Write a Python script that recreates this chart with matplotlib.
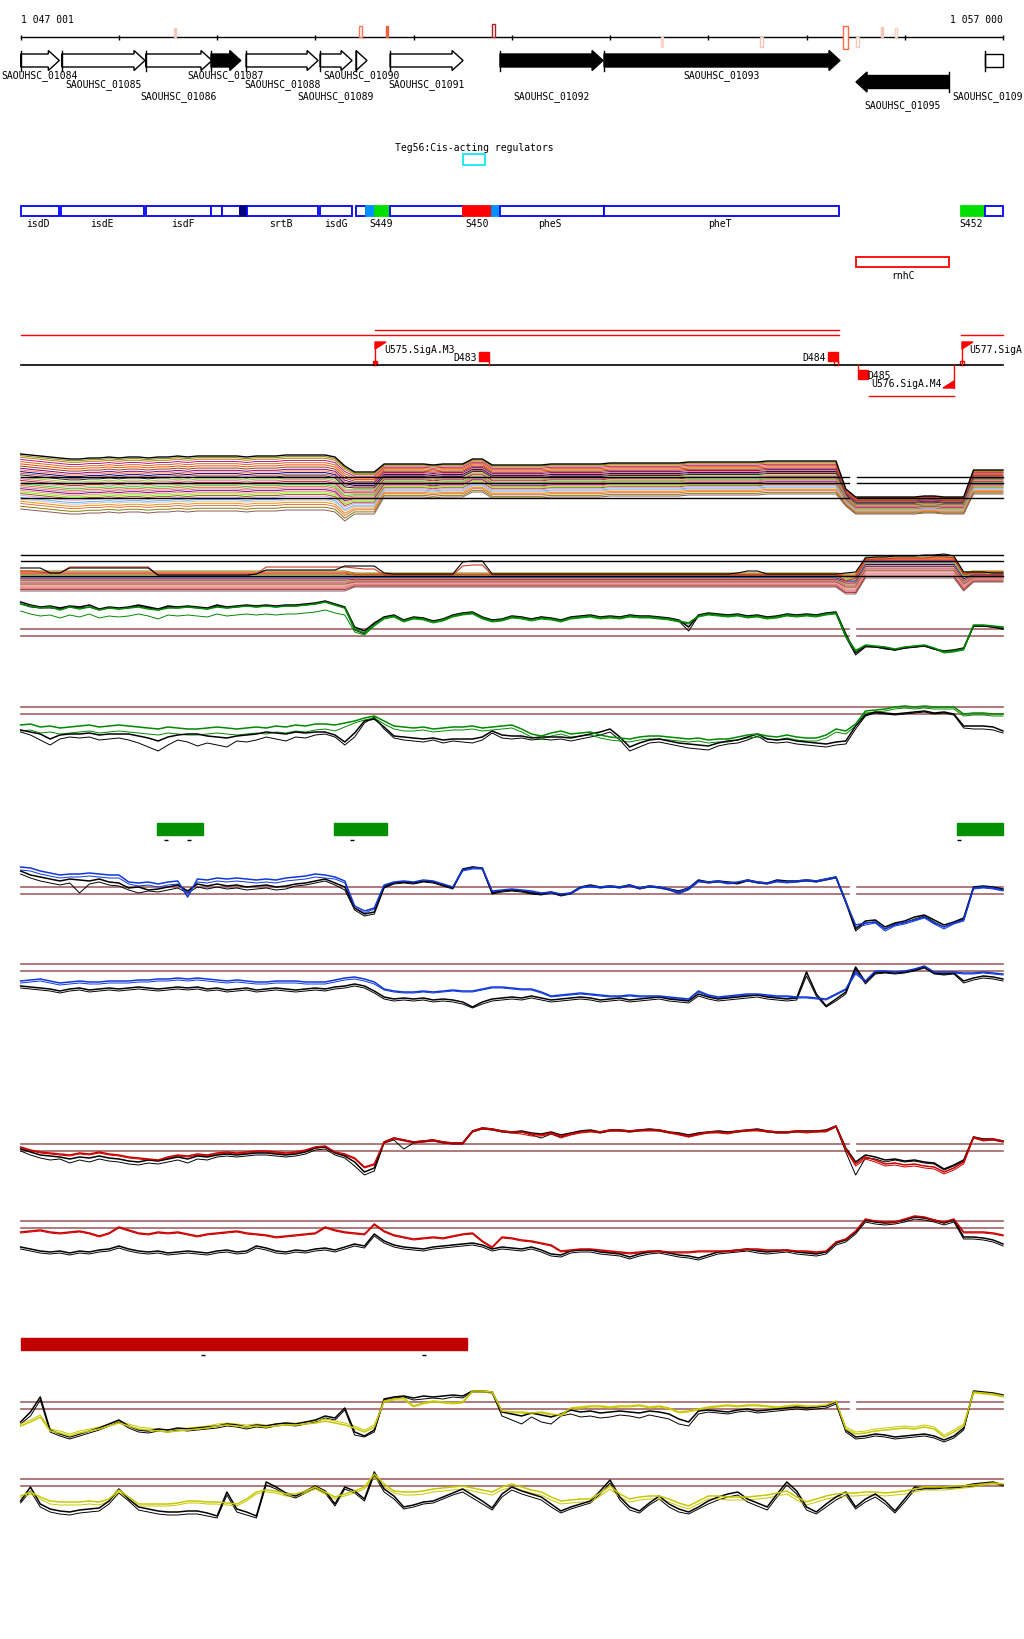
import matplotlib
matplotlib.use("Agg")
import matplotlib.pyplot as plt
import numpy as np
from matplotlib.patches import Rectangle, Polygon

START, END = 1047001, 1057000
bins = np.arange(1047000, 1057001, 100)   # 100 bp bins, 101 values per signal

# ---- annotation data ----
gene_names = ["SAOUHSC_01084", "SAOUHSC_01085", "SAOUHSC_01086", "SAOUHSC_01087",
              "SAOUHSC_01088", "SAOUHSC_01089", "SAOUHSC_01090", "SAOUHSC_01091",
              "SAOUHSC_01092", "SAOUHSC_01093", "SAOUHSC_01095", "SAOUHSC_0109"]
gene_start = [1047001, 1047418, 1048273, 1048938, 1049295, 1050048, 1050414, 1050761,
              1051880, 1052939, 1055504, 1056818]
gene_end = [1047394, 1048266, 1048948, 1049241, 1050028, 1050374, 1050526, 1051504,
            1052929, 1055341, 1056451, 1057600]
gene_strand = [1, 1, 1, 1, 1, 1, 1, 1, 1, 1, -1, 1]
gene_black = [False, False, False, True, False, False, False, False, True, True, True, False]
gene_row = [0, 1, 2, 0, 1, 2, 0, 1, 2, 0, 3, 2]

feat_start = [1047001, 1047411, 1048277, 1048938, 1049050, 1049233, 1049305, 1050048,
              1050414, 1050516, 1050608, 1050761, 1051504, 1051799, 1051880, 1052939,
              1056573, 1056818]
feat_end = [1047388, 1048256, 1048938, 1049050, 1049233, 1049305, 1050028, 1050374,
            1050516, 1050608, 1050761, 1051504, 1051799, 1051880, 1052939, 1055331,
            1056818, 1057000]
feat_fill = ["none", "none", "none", "none", "none", "#000080", "none", "none",
             "none", "#0090ff", "#00e000", "none", "#ff0000", "#0090ff", "none", "none",
             "#00e000", "none"]
feat_labels = ["isdD", "isdE", "isdF", "srtB", "isdG", "S449", "S450", "pheS", "pheT", "S452"]
feat_label_pos = [1047177, 1047829, 1048653, 1049651, 1050211, 1050669, 1051646,
                  1052389, 1054120, 1056675]

axis_ticks = [1047001] + list(range(1048000, 1057001, 1000))

mark_pos = [1048562, 1050446, 1050720, 1051799, 1053518, 1054526, 1055371, 1055504,
            1055759, 1055901]
mark_width = [20, 30, 20, 30, 20, 30, 50, 30, 15, 20]
mark_span = [(29, 38), (27, 38), (27, 38), (25, 38), (38, 48), (38, 48), (27, 50),
             (38, 48), (28, 38), (29, 38)]
mark_filled = [True, False, True, False, True, False, False, False, True, False]
mark_color = ["#f5c8bc", "#ff7a5a", "#f06040", "#b02020", "#f8d4c8", "#f4c4b4",
              "#ff6a4a", "#f8c8b8", "#f6c6b6", "#f8d0c0"]

green_bars = [(1048390, 1048859), (1050192, 1050731), (1056530, 1057000)]
green_dash = [1048480, 1048710, 1050370, 1056550]
red_bars = [(1047004, 1051547)]
red_dash = [1048858, 1051108]
gap = (1055430, 1055510)

# ---- bundle tracks (many conditions) ----
A_top = [23, 22, 21, 20, 19, 18, 18, 19, 19, 20,
         19, 20, 20, 19, 20, 20, 21, 20, 21, 21,
         21, 21, 21, 20, 21, 21, 21, 22, 22, 22,
         22, 22, 20, 11, 5, 5, 5, 13, 13, 13,
         13, 13, 12, 13, 13, 13, 18, 18, 12, 12,
         12, 12, 12, 12, 13, 13, 13, 13, 13, 13,
         14, 14, 14, 14, 14, 14, 14, 14, 15, 15,
         15, 15, 15, 15, 15, 15, 16, 16, 16, 16,
         16, 16, 16, 16, -12, -20, -20, -20, -20, -20,
         -20, -20, -19, -19, -20, -20, -20, 7, 7, 7, 7]
A_spread = np.repeat([55, 42, 33, 17, 24], [34, 3, 47, 13, 4])
A_fracs = [0.03, 0.06, 0.1, 0.14, 0.18, 0.22, 0.26, 0.29, 0.32, 0.35, 0.38, 0.42, 0.45,
           0.48, 0.51, 0.54, 0.57, 0.6, 0.63, 0.66, 0.69, 0.72, 0.75, 0.79, 0.82, 0.86,
           0.9, 0.95, 1.0]
A_colors = ["#808000", "#b8860b", "#c71585", "#d2691e", "#ff4500", "#8b4513", "#800080",
            "#ff7f50", "#000080", "#cd5c5c", "#222222", "#9acd32", "#db7093", "#b22222",
            "#d2b48c", "#32cd32", "#ff6347", "#bc8f8f", "#8b008b", "#e9967a", "#7cfc00",
            "#a0522d", "#dda0dd", "#66b3ff", "#c0c0c0", "#ff8c00", "#e07050", "#808000",
            "#8b5a5a"]

B_top = np.repeat([5, 3, 2, 19, 4, 5], [34, 50, 2, 10, 1, 4])
B_spread = np.repeat([20, 14, 20, 21, 19, 11], [34, 50, 2, 10, 1, 4])
B_fracs = [0.0, 0.06, 0.11, 0.16, 0.21, 0.26, 0.31, 0.36, 0.41, 0.46, 0.51, 0.56, 0.61,
           0.66, 0.71, 0.76, 0.81, 0.87, 0.93, 1.0]
B_colors = ["#808000", "#d2691e", "#ff4500", "#c71585", "#7cfc00", "#b8860b", "#66b3ff",
            "#000080", "#ff7f50", "#800080", "#9acd32", "#cd5c5c", "#db7093", "#8b4513",
            "#e9967a", "#dda0dd", "#ff6347", "#bc8f8f", "#b22222", "#8b5a5a"]
B_black = [8, 8, 8, 3, 3, 8, 8, 8, 8, 8,
           8, 8, 8, 8, 1, 1, 1, 1, 1, 1,
           1, 1, 1, 1, 2, 6, 6, 6, 6, 6,
           6, 6, 6, 10, 10, 10, 10, 3, 2, 2,
           2, 2, 2, 2, 2, 14, 15, 15, 2, 2,
           2, 2, 2, 2, 2, 2, 2, 2, 2, 2,
           2, 2, 2, 2, 2, 2, 2, 2, 2, 2,
           2, 2, 2, 3, 5, 5, 2, 2, 2, 2,
           2, 2, 2, 2, 3, 4, 18, 19, 19, 20,
           20, 20, 21, 21, 22, 20, 4, 4, 4, 3, 3]
B_red = [5, 5, 4, 3, 3, 9, 9, 9, 9, 9,
         9, 9, 9, 9, 0, 0, 0, 0, 0, 0,
         0, 0, 0, 0, 2, 9, 9, 9, 9, 9,
         9, 9, 9, 9, 8, 7, 7, 1, 1, 1,
         1, 1, 1, 1, 1, 10, 11, 11, 1, 1,
         1, 1, 1, 1, 1, 1, 1, 1, 1, 1,
         1, 1, 1, 1, 1, 1, 1, 1, 1, 1,
         1, 1, 1, 1, 1, 1, 1, 1, 1, 1,
         1, 1, 1, 1, -5, -2, 16, 17, 17, 18,
         18, 18, 18, 19, 19, 18, 2, 2, 2, 1, 1]

# ---- paired signal tracks: values relative to upper threshold ----
C_black1 = [27, 24, 22, 23, 21, 23, 22, 24, 20, 22, 21, 22, 24, 22, 20, 23, 22, 23, 22, 21,
            24, 22, 23, 24, 23, 24, 23, 24, 24, 25, 26, 28, 25, 22, 2, -2, 6, 12, 14, 9,
            12, 11, 8, 10, 14, 16, 17, 12, 9, 10, 13, 12, 10, 12, 11, 9, 12, 13, 14, 12,
            13, 12, 14, 13, 13, 12, 11, 9, 2, 14, 16, 15, 14, 15, 13, 14, 12, 13, 15, 14,
            15, 14, 16, 17, -5, -24, -17, -18, -19, -21, -19, -18, -17, -20, -22, -21, -19, 3, 3, 2, 0]
C_black2 = [25, 22, 21, 21, 20, 22, 21, 22, 19, 21, 20, 21, 23, 21, 19, 22, 21, 22, 21, 20,
            23, 21, 22, 23, 22, 23, 22, 23, 23, 24, 25, 27, 24, 21, -1, -5, 5, 12, 13, 8,
            11, 10, 8, 9, 13, 15, 16, 11, 8, 9, 12, 11, 10, 12, 10, 8, 11, 12, 13, 11,
            12, 11, 13, 12, 12, 11, 10, 8, -2, 13, 15, 14, 13, 14, 12, 13, 11, 12, 14, 13,
            14, 13, 15, 16, -8, -26, -18, -18, -20, -21, -19, -18, -17, -20, -23, -22, -20, 3, 3, 2, 1]
C_green1 = [25, 23, 21, 22, 19, 22, 20, 22, 19, 21, 20, 21, 22, 20, 19, 21, 21, 22, 21, 20,
            22, 21, 22, 23, 22, 23, 22, 23, 23, 24, 25, 27, 24, 21, 0, -4, 4, 11, 13, 8,
            11, 10, 7, 9, 13, 15, 16, 11, 8, 9, 12, 11, 9, 11, 10, 8, 11, 12, 13, 11,
            12, 11, 13, 12, 12, 11, 10, 8, 6, 13, 15, 14, 13, 14, 12, 13, 11, 12, 14, 13,
            14, 13, 15, 16, -7, -22, -16, -17, -18, -20, -18, -17, -16, -19, -23, -22, -20, 4, 4, 3, 2]
C_green2 = [18, 15, 13, 14, 11, 14, 12, 15, 11, 13, 12, 13, 15, 13, 10, 14, 13, 14, 13, 12,
            15, 13, 14, 15, 14, 15, 14, 15, 15, 16, 17, 19, 16, 14, -3, -6, 3, 10, 12, 7,
            10, 9, 6, 8, 12, 14, 15, 10, 7, 8, 11, 10, 8, 10, 9, 7, 10, 11, 12, 10,
            11, 10, 12, 11, 11, 10, 9, 7, 5, 12, 14, 13, 12, 13, 11, 12, 10, 11, 13, 12,
            13, 12, 14, 15, -8, -21, -17, -18, -19, -21, -19, -18, -17, -20, -24, -23, -21, 3, 3, 2, 1]

D_black1 = [-23, -25, -27, -32, -28, -27, -27, -26, -28, -27, -27, -27, -29, -31, -34, -30, -28, -27, -27, -29,
            -30, -31, -29, -28, -27, -25, -26, -27, -25, -26, -25, -25, -28, -35, -26, -14, -12, -20, -29, -30,
            -31, -32, -31, -33, -32, -32, -32, -30, -24, -28, -29, -29, -31, -30, -30, -30, -31, -29, -27, -25,
            -22, -30, -40, -36, -33, -32, -34, -36, -37, -38, -39, -36, -34, -33, -30, -27, -32, -33, -32, -34,
            -35, -36, -37, -35, -34, -19, -8, -5, -6, -7, -6, -5, -4, -6, -5, -7, -19, -19, -19, -20, -24]
D_black2 = [-25, -28, -33, -38, -32, -30, -31, -30, -33, -32, -31, -33, -36, -40, -44, -38, -33, -35, -39, -36,
            -38, -40, -34, -35, -33, -30, -32, -34, -30, -31, -28, -27, -30, -38, -30, -16, -10, -22, -31, -33,
            -34, -35, -33, -36, -34, -35, -36, -33, -26, -31, -32, -31, -33, -32, -33, -32, -34, -32, -30, -28,
            -25, -33, -44, -40, -36, -35, -37, -39, -41, -42, -43, -39, -37, -36, -33, -29, -35, -36, -35, -37,
            -38, -39, -40, -38, -37, -22, -9, -6, -7, -8, -7, -6, -5, -7, -6, -8, -21, -22, -22, -23, -26]
D_green1 = [-18, -17, -20, -19, -21, -20, -19, -18, -20, -19, -18, -19, -20, -21, -22, -20, -21, -22, -22, -21,
            -20, -21, -22, -21, -20, -21, -19, -20, -18, -19, -17, -17, -18, -16, -14, -11, -9, -14, -19, -20,
            -21, -20, -22, -21, -20, -20, -19, -21, -20, -19, -18, -22, -27, -29, -26, -24, -27, -26, -25, -28,
            -30, -31, -32, -30, -29, -29, -30, -31, -32, -31, -33, -32, -32, -30, -28, -27, -29, -30, -28, -30,
            -31, -31, -28, -22, -24, -17, -4, -3, -2, 0, 1, 0, 1, 0, 0, 0, -7, -6, -6, -7, -7]
D_green2 = [-24, -23, -26, -25, -27, -26, -25, -24, -26, -25, -24, -25, -26, -27, -28, -26, -27, -28, -28, -27,
            -26, -27, -28, -27, -26, -27, -25, -26, -24, -25, -23, -22, -24, -20, -16, -13, -11, -17, -22, -24,
            -24, -23, -25, -24, -23, -23, -22, -24, -23, -22, -21, -25, -30, -32, -29, -27, -30, -29, -28, -31,
            -33, -34, -35, -33, -32, -32, -33, -34, -35, -34, -36, -35, -35, -33, -31, -30, -32, -33, -31, -33,
            -34, -34, -31, -25, -27, -19, -6, -5, -4, -2, -1, -2, -1, -2, -2, -2, -9, -8, -8, -9, -9]

E_black1 = [16, 12, 10, 8, 6, 8, 7, 6, 8, 5, 4, -1, 0, -3, -2, 0, 2, -4, 3, 1,
            3, 1, 2, 0, 1, 2, 0, 1, 3, 4, 6, 8, 4, 0, -21, -27, -25, 0, 4, 5,
            4, 6, 5, 2, -1, 18, 20, 19, -6, -4, -3, -4, -6, -7, -5, -8, -6, 0, 2, 0,
            1, 0, 2, -1, 1, 0, -2, -4, -1, 7, 5, 6, 5, 4, 7, 5, 4, 7, 6, 6,
            7, 6, 8, 10, -14, -42, -34, -33, -40, -36, -34, -30, -28, -33, -38, -35, -31, 0, 1, 0, -2]
E_black2 = [13, 9, 6, 4, 2, 4, -6, 3, 5, 2, 1, -3, -6, -4, -5, -3, -1, -6, 0, -2,
            0, -2, -1, -3, -2, -1, -3, -2, 1, 2, 4, 6, 2, -3, -23, -29, -27, -1, 3, 4,
            3, 5, 4, 1, -2, 17, 20, 18, -7, -5, -4, -5, -7, -8, -6, -9, -7, -1, 1, -1,
            0, -1, 1, -2, 0, -1, -3, -6, -2, 6, 4, 5, 4, 3, 6, 4, 3, 6, 5, 5,
            6, 5, 7, 9, -16, -44, -36, -35, -42, -37, -36, -32, -29, -35, -40, -36, -32, -1, 0, -1, -3]
E_blue1 = [20, 19, 16, 14, 12, 13, 13, 14, 13, 12, 12, 5, 4, 5, 3, 5, 6, -10, 8, 7,
           9, 8, 9, 8, 7, 8, 7, 9, 10, 11, 13, 12, 10, 6, -19, -24, -21, 2, 5, 6,
           5, 7, 6, 3, 0, 17, 19, 19, -4, -3, -2, -3, -4, -6, -5, -7, -6, 0, 1, 0,
           1, 0, 2, -1, 1, 0, -2, -5, -1, 6, 5, 6, 4, 5, 7, 5, 4, 6, 5, 6,
           7, 6, 8, 10, -15, -38, -36, -35, -42, -38, -35, -33, -30, -36, -40, -36, -33, -1, 0, -1, -3]
E_blue2 = [17, 16, 13, 11, 9, 10, 10, 11, 10, 9, 9, 3, 1, 2, 0, 2, 3, -6, 5, 4,
           6, 5, 6, 5, 4, 5, 4, 6, 7, 8, 10, 9, 8, 4, -21, -26, -22, 1, 4, 5,
           4, 6, 5, 2, -1, 16, 18, 18, -5, -4, -3, -4, -5, -7, -6, -8, -7, -1, 0, -1,
           0, -1, 1, -2, 0, -1, -3, -7, -3, 5, 4, 5, 3, 4, 6, 4, 3, 5, 4, 5,
           6, 5, 7, 9, -16, -40, -38, -36, -44, -39, -37, -34, -31, -37, -42, -37, -34, -2, -1, -2, -4]

F_black1 = [-22, -23, -24, -25, -27, -25, -24, -26, -25, -24, -25, -24, -23, -24, -25, -24, -23, -24, -23, -25,
            -24, -26, -25, -24, -26, -25, -24, -25, -26, -25, -24, -25, -23, -22, -20, -22, -27, -33, -35, -34,
            -35, -34, -36, -35, -36, -38, -43, -38, -35, -34, -33, -34, -32, -34, -36, -35, -34, -33, -34, -36,
            -35, -34, -36, -35, -34, -33, -35, -36, -37, -30, -33, -35, -34, -33, -32, -31, -33, -34, -35, -34,
            -8, -30, -42, -35, -28, -3, -18, -9, -8, -9, -8, -6, -3, -9, -10, -9, -17, -14, -12, -13, -15]
F_black2 = [-24, -25, -26, -27, -29, -27, -26, -28, -27, -26, -27, -26, -25, -26, -27, -26, -25, -26, -25, -27,
            -26, -28, -27, -26, -28, -27, -26, -27, -28, -27, -26, -27, -25, -24, -22, -24, -29, -35, -37, -36,
            -37, -36, -38, -37, -38, -40, -44, -40, -37, -36, -35, -36, -34, -36, -38, -37, -36, -35, -36, -38,
            -37, -36, -38, -37, -36, -35, -37, -38, -39, -32, -35, -37, -36, -35, -34, -33, -35, -36, -37, -36,
            -12, -32, -43, -37, -30, -5, -20, -10, -9, -10, -9, -7, -4, -10, -11, -10, -19, -16, -14, -15, -17]
F_blue1 = [-17, -16, -15, -17, -19, -18, -17, -18, -18, -17, -17, -17, -16, -16, -15, -15, -14, -15, -14, -15,
           -16, -17, -16, -17, -18, -18, -17, -17, -17, -18, -18, -18, -16, -14, -13, -15, -18, -25, -27, -28,
           -28, -27, -28, -27, -26, -27, -27, -25, -23, -23, -24, -25, -25, -28, -32, -31, -30, -29, -30, -31,
           -32, -32, -31, -32, -32, -32, -33, -34, -35, -27, -31, -33, -32, -31, -30, -30, -31, -32, -32, -33,
           -33, -34, -35, -30, -25, -8, -17, -7, -7, -8, -7, -5, -2, -8, -8, -8, -9, -9, -8, -9, -10]
F_blue2 = [-19, -18, -17, -19, -21, -20, -19, -20, -20, -19, -19, -19, -18, -18, -17, -17, -16, -17, -16, -17,
           -18, -19, -18, -19, -20, -20, -19, -19, -19, -20, -20, -20, -18, -16, -15, -17, -20, -26, -28, -29,
           -29, -28, -29, -28, -27, -28, -28, -26, -24, -24, -25, -26, -26, -29, -33, -32, -31, -30, -31, -32,
           -33, -33, -32, -33, -33, -33, -34, -35, -36, -28, -32, -34, -33, -32, -31, -31, -32, -33, -33, -34,
           -34, -35, -36, -31, -26, -10, -18, -8, -8, -9, -8, -6, -3, -9, -9, -9, -10, -10, -9, -10, -11]

G_black1 = [-5, -8, -11, -12, -13, -15, -13, -14, -12, -14, -15, -17, -18, -16, -17, -15, -13, -15, -12, -13,
            -11, -10, -11, -10, -9, -9, -10, -11, -10, -8, -4, -3, -9, -12, -18, -28, -24, 2, 6, 4,
            2, 3, 4, 2, 1, 1, 13, 16, 15, 13, 12, 13, 11, 10, 12, 9, 11, 13, 14, 12,
            14, 14, 13, 14, 15, 14, 12, 11, 9, 11, 12, 13, 12, 13, 14, 15, 13, 12, 12, 13,
            13, 13, 14, 18, -4, -18, -11, -13, -16, -15, -17, -16, -18, -19, -25, -21, -16, 7, 5, 5, 3]
G_black2 = [-7, -11, -14, -16, -15, -19, -16, -18, -15, -17, -18, -20, -21, -19, -20, -18, -16, -19, -15, -16,
            -13, -12, -13, -12, -11, -11, -12, -13, -12, -10, -6, -5, -11, -14, -22, -31, -27, 1, 4, -5,
            1, 2, 3, 1, 0, 0, 12, 15, 14, 12, 11, 12, 9, 6, 10, 7, 10, 12, 13, 11,
            13, 13, 12, 13, 14, 13, 11, 10, 7, 10, 11, 12, 11, 12, 13, 14, 12, 11, 11, 12,
            12, 12, 13, 17, -8, -31, -14, -15, -18, -16, -18, -17, -19, -20, -26, -22, -17, 6, 4, 4, 2]
G_red1 = [-3, -6, -8, -9, -10, -11, -9, -10, -8, -10, -11, -13, -14, -15, -16, -13, -11, -12, -10, -11,
          -9, -8, -9, -8, -7, -7, -8, -9, -8, -6, -3, -2, -8, -10, -14, -23, -20, 2, 6, 4,
          2, 3, 4, 2, 1, 1, 13, 16, 15, 13, 12, 12, 10, 9, 11, 8, 10, 12, 13, 12,
          14, 14, 13, 14, 14, 14, 12, 10, 8, 10, 12, 12, 11, 13, 14, 14, 13, 12, 12, 13,
          12, 13, 13, 18, -5, -20, -13, -16, -20, -19, -21, -20, -22, -23, -28, -24, -18, 7, 4, 5, 3]
G_red2 = [-4, -7, -9, -10, -11, -12, -10, -11, -9, -11, -12, -14, -15, -16, -17, -14, -12, -13, -11, -12,
          -10, -9, -10, -9, -8, -8, -9, -10, -9, -7, -4, -3, -9, -11, -15, -24, -21, 1, 5, 3,
          1, 2, 3, 1, 0, 0, 12, 15, 14, 12, 11, 10, 8, 8, 10, 6, 9, 11, 12, 11,
          13, 13, 12, 13, 13, 13, 11, 9, 7, 9, 11, 11, 10, 12, 13, 13, 12, 11, 11, 12,
          11, 12, 12, 17, -6, -22, -15, -18, -22, -21, -23, -22, -24, -25, -30, -26, -20, 6, 3, 4, 2]

H_black1 = [-26, -28, -30, -31, -30, -32, -30, -31, -29, -28, -25, -28, -30, -31, -30, -32, -31, -30, -31, -32,
            -30, -29, -31, -30, -25, -27, -30, -31, -29, -30, -28, -27, -29, -26, -23, -25, -13, -20, -24, -26,
            -27, -28, -26, -25, -24, -23, -22, -24, -28, -26, -27, -28, -26, -29, -33, -34, -30, -29, -29, -31,
            -32, -33, -36, -33, -31, -30, -32, -34, -35, -37, -34, -31, -30, -29, -28, -30, -31, -30, -29, -31,
            -32, -33, -31, -22, -19, -11, 1, -1, -2, -1, 1, 4, 3, 1, -2, 1, -16, -16, -17, -19, -23]
H_black2 = [-28, -30, -32, -33, -32, -34, -32, -33, -31, -30, -27, -30, -32, -33, -32, -34, -33, -32, -33, -34,
            -32, -31, -33, -32, -27, -29, -32, -33, -31, -32, -30, -29, -31, -28, -25, -27, -15, -22, -26, -28,
            -29, -30, -28, -27, -26, -25, -24, -26, -30, -28, -29, -30, -28, -31, -35, -36, -32, -31, -31, -33,
            -34, -35, -38, -35, -33, -32, -34, -36, -37, -39, -36, -33, -32, -31, -30, -32, -33, -32, -31, -33,
            -34, -35, -33, -24, -21, -13, -1, -3, -4, -3, -1, 2, 1, -1, -4, -1, -18, -18, -19, -21, -25]
H_red1 = [-11, -10, -9, -11, -12, -11, -10, -12, -15, -12, -6, -9, -12, -13, -11, -12, -11, -13, -15, -13,
          -12, -11, -10, -12, -13, -14, -16, -15, -14, -13, -12, -6, -9, -11, -12, -13, -3, -10, -14, -16,
          -18, -17, -16, -17, -15, -13, -12, -20, -26, -16, -17, -19, -20, -22, -24, -30, -29, -28, -28, -29,
          -30, -31, -32, -31, -30, -30, -31, -31, -31, -30, -30, -30, -30, -29, -28, -28, -29, -29, -29, -30,
          -30, -31, -30, -21, -18, -10, 2, 0, -1, -1, 2, 5, 4, 1, -1, 2, -11, -11, -11, -12, -14]
H_red2 = [-12, -11, -10, -12, -13, -12, -11, -13, -16, -13, -7, -10, -13, -14, -12, -13, -12, -14, -16, -14,
          -13, -12, -11, -13, -14, -15, -17, -16, -15, -14, -13, -7, -10, -12, -13, -14, -4, -11, -15, -17,
          -19, -18, -17, -18, -16, -14, -13, -21, -27, -17, -18, -20, -21, -23, -25, -31, -30, -29, -29, -30,
          -31, -32, -33, -32, -31, -31, -32, -32, -32, -31, -31, -31, -31, -30, -29, -29, -30, -30, -30, -31,
          -31, -32, -31, -22, -19, -11, 1, -1, -2, -2, 1, 4, 3, 0, -2, 1, -12, -12, -12, -13, -15]

I_black1 = [-20, -10, 5, -28, -32, -35, -32, -29, -26, -22, -18, -24, -28, -29, -27, -28, -26, -27, -26, -25,
            -24, -22, -23, -25, -23, -24, -22, -21, -22, -20, -18, -14, -16, -6, -30, -34, -28, 3, 5, 6,
            4, 6, 5, 6, 7, 6, 11, 11, 10, -10, -12, -14, -11, -13, -15, -12, -8, -10, -9, -11,
            -10, -9, -10, -11, -9, -10, -12, -17, -20, -9, -8, -9, -10, -8, -7, -9, -8, -7, -6, -5,
            -6, -5, -4, 0, -28, -35, -34, -32, -33, -35, -34, -33, -32, -34, -38, -34, -26, 11, 10, 9, 7]
I_black2 = [-22, -14, 2, -30, -34, -37, -34, -31, -28, -24, -20, -26, -30, -31, -29, -30, -28, -29, -28, -27,
            -26, -24, -25, -27, -25, -26, -24, -23, -24, -22, -20, -16, -18, -8, -33, -35, -30, 2, 4, 5,
            2, 3, 4, 3, 5, 4, 10, 10, 9, -14, -18, -22, -15, -20, -22, -14, -12, -15, -14, -16,
            -15, -13, -14, -16, -13, -15, -17, -22, -24, -12, -10, -11, -12, -10, -9, -11, -10, -9, -8, -7,
            -8, -7, -6, -2, -30, -37, -36, -34, -35, -37, -36, -35, -34, -36, -40, -36, -28, 10, 9, 8, 6]
I_yel1 = [-24, -20, -15, -29, -31, -34, -31, -29, -27, -24, -21, -24, -27, -28, -29, -30, -29, -28, -27, -26,
          -24, -23, -24, -25, -24, -25, -24, -23, -23, -22, -21, -19, -21, -23, -26, -30, -25, 1, 3, 4,
          -4, -1, 1, 0, -1, 0, 11, 11, 10, -9, -10, -10, -11, -10, -12, -13, -6, -5, -4, -4,
          -5, -4, -4, -3, -5, -4, -6, -10, -9, -7, -5, -4, -3, -4, -3, -3, -4, -5, -4, -3,
          -4, -4, -3, 1, -27, -32, -31, -29, -28, -27, -26, -27, -25, -27, -35, -30, -24, 10, 9, 8, 6]
I_yel2 = [-22, -18, -13, -27, -29, -32, -29, -27, -25, -22, -19, -22, -25, -26, -27, -28, -27, -26, -25, -24,
          -22, -21, -22, -23, -22, -23, -22, -21, -21, -20, -19, -17, -19, -21, -24, -28, -23, 0, 2, 2,
          -5, -2, 0, -1, -2, -1, 10, 10, 9, -10, -11, -11, -12, -11, -13, -14, -8, -6, -5, -5,
          -6, -5, -5, -4, -6, -5, -7, -11, -10, -8, -6, -5, -4, -5, -4, -4, -5, -6, -5, -4,
          -5, -5, -4, 0, -25, -30, -29, -27, -26, -25, -24, -25, -23, -25, -33, -28, -22, 9, 8, 7, 5]

J_black1 = [-22, -8, -25, -30, -32, -33, -31, -30, -29, -22, -10, -20, -28, -30, -32, -33, -33, -32, -32, -34,
            -37, -13, -30, -33, -37, -3, -8, -14, -17, -12, -7, -12, -25, -8, -12, -20, 7, -10, -17, -28,
            -26, -23, -22, -18, -14, -10, -16, -22, -29, -15, -8, -12, -15, -18, -25, -32, -28, -25, -22, -12,
            -1, -18, -28, -32, -24, -17, -25, -30, -33, -28, -22, -18, -15, -13, -20, -24, -28, -15, -3, -12,
            -28, -33, -25, -18, -13, -28, -20, -15, -22, -32, -20, -8, -9, -9, -8, -8, -7, -5, -4, -3, -6]
J_black2 = [-24, -12, -28, -33, -35, -36, -34, -33, -32, -25, -14, -22, -31, -33, -35, -36, -36, -35, -35, -37,
            -39, -16, -33, -36, -39, -6, -10, -16, -19, -14, -9, -14, -27, -10, -14, -22, 4, -13, -20, -30,
            -28, -25, -24, -20, -16, -13, -19, -25, -31, -18, -11, -15, -18, -21, -28, -34, -30, -27, -24, -15,
            -4, -21, -31, -34, -26, -20, -28, -33, -35, -30, -25, -21, -18, -16, -23, -27, -31, -18, -6, -15,
            -31, -35, -28, -21, -16, -30, -23, -18, -25, -34, -23, -11, -10, -10, -9, -9, -8, -7, -5, -4, -7]
J_yel1 = [-17, -13, -18, -22, -23, -23, -23, -22, -23, -20, -11, -18, -25, -25, -25, -25, -24, -22, -22, -23,
          -23, -24, -25, -20, -13, -11, -12, -15, -15, -12, -8, -13, -18, -15, -12, -8, 5, -5, -12, -13,
          -13, -12, -10, -9, -8, -7, -9, -11, -13, -8, -5, -8, -11, -13, -18, -22, -21, -20, -20, -14,
          -7, -15, -20, -18, -17, -17, -20, -24, -27, -22, -17, -17, -18, -18, -18, -17, -16, -14, -12, -18,
          -23, -20, -17, -15, -14, -14, -13, -13, -14, -13, -12, -10, -8, -8, -8, -7, -7, -6, -5, -4, -5]
J_yel2 = [-19, -15, -20, -25, -26, -26, -26, -25, -26, -22, -13, -20, -27, -27, -27, -27, -26, -24, -24, -25,
          -25, -26, -27, -22, -15, -13, -14, -17, -17, -14, -10, -15, -20, -17, -14, -10, 2, -8, -14, -16,
          -16, -15, -13, -12, -11, -10, -12, -14, -16, -11, -8, -11, -14, -16, -21, -25, -24, -23, -23, -17,
          -10, -18, -23, -21, -20, -20, -23, -27, -30, -25, -20, -20, -21, -21, -21, -20, -19, -17, -15, -21,
          -26, -23, -20, -18, -17, -17, -16, -16, -17, -16, -15, -13, -11, -11, -11, -10, -9, -8, -6, -5, -6]

# ---- figure ----
fig = plt.figure(figsize=(10.24, 16.4), dpi=100)
ax = fig.add_axes([0, 0, 1, 1])
ax.set_xlim(1046790, 1057214)
ax.set_ylim(1640, 0)
ax.axis("off")
MONO = "DejaVu Sans Mono"
FS = 7

# coordinate axis
ax.plot([START, END], [38, 38], color="black", lw=1)
ax.vlines(axis_ticks, 36, 41, color="black", lw=1)
ax.text(START, 20, "1 047 001", fontsize=FS, family=MONO, ha="left", va="center")
ax.text(END, 20, "1 057 000", fontsize=FS, family=MONO, ha="right", va="center")
for x, w, (y0, y1), f, c in zip(mark_pos, mark_width, mark_span, mark_filled, mark_color):
    ax.add_patch(Rectangle((x, y0), w, y1 - y0, facecolor=c if f else "white",
                           edgecolor=c, lw=1, zorder=3))

# genes
row_y = [76, 85, 97, 106]
HL = 112
for name, s, e, st, blk, r in zip(gene_names, gene_start, gene_end, gene_strand, gene_black, gene_row):
    yc = 61.5 if st > 0 else 83
    bh, hh = 6.5, 10
    fc = "black" if blk else "white"
    if e > END:
        ax.add_patch(Rectangle((s, yc - bh), END - s, 2 * bh, facecolor=fc, edgecolor="black", lw=1))
        ax.plot([s, s], [yc - hh, yc + hh], color="black", lw=1)
        ax.text(1056480, row_y[r], name, fontsize=FS, family=MONO, ha="left", va="center")
        continue
    hl = min(HL, e - s)
    if st > 0:
        pts = [(s, yc - bh), (e - hl, yc - bh), (e - hl, yc - hh), (e, yc),
               (e - hl, yc + hh), (e - hl, yc + bh), (s, yc + bh)]
        bar = s
    else:
        pts = [(e, yc - bh), (s + hl, yc - bh), (s + hl, yc - hh), (s, yc),
               (s + hl, yc + hh), (s + hl, yc + bh), (e, yc + bh)]
        bar = e
    ax.add_patch(Polygon(pts, closed=True, facecolor=fc, edgecolor="black", lw=1, zorder=2))
    ax.plot([bar, bar], [yc - hh, yc + hh], color="black", lw=1, zorder=2)
    ax.text((s + e) / 2, row_y[r], name, fontsize=FS, family=MONO, ha="center", va="center")

# cis-acting regulator
ax.add_patch(Rectangle((1051508, 155), 224, 11, facecolor="none", edgecolor="#00e8f0", lw=1.2))
ax.text(1051620, 148, "Teg56:Cis-acting regulators", fontsize=FS, family=MONO, ha="center", va="center")

# operon / transcript features
for s, e, fc in zip(feat_start, feat_end, feat_fill):
    ax.add_patch(Rectangle((s, 207), e - s, 10, facecolor="white" if fc == "none" else fc,
                           edgecolor="#0000ff" if fc == "none" else fc, lw=1.3))
for lab, x in zip(feat_labels, feat_label_pos):
    ax.text(x, 224, lab, fontsize=FS, family=MONO, ha="center", va="center")
ax.add_patch(Rectangle((1055504, 258), 947, 10, facecolor="white", edgecolor="#ff0000", lw=1.3))
ax.text(1055978, 276, "rnhC", fontsize=FS, family=MONO, ha="center", va="center")

# promoters / terminators
RED = "#ff0000"
ax.plot([1050608, 1055331], [331, 331], color=RED, lw=1)
ax.plot([START, 1055331], [336, 336], color=RED, lw=1)
ax.plot([1056573, END], [336, 336], color=RED, lw=1)
ax.plot([1055637, 1056502], [397, 397], color=RED, lw=1)
ax.plot([START, END], [366, 366], color="black", lw=1.2)
for x in [1050608, 1056583]:
    ax.plot([x, x], [343, 366], color=RED, lw=1)
    ax.add_patch(Polygon([(x, 343), (x + 112, 343), (x, 350)], color=RED))
    ax.add_patch(Rectangle((x - 20, 362), 40, 4, facecolor=RED if x < 1056000 else "white", edgecolor=RED, lw=1))
ax.text(1050700, 350, "U575.SigA.M3", fontsize=FS, family=MONO, ha="left", va="center")
ax.text(1056660, 350, "U577.SigA", fontsize=FS, family=MONO, ha="left", va="center")
ax.plot([1056502, 1056502], [366, 389], color=RED, lw=1)
ax.add_patch(Polygon([(1056502, 389), (1056390, 389), (1056502, 382)], color=RED))
ax.text(1056380, 384, "U576.SigA.M4", fontsize=FS, family=MONO, ha="right", va="center")
for s, y0, lab, side in [(1051667, 353, "D483", "l"), (1055219, 353, "D484", "l"), (1055525, 371, "D485", "r")]:
    ax.add_patch(Rectangle((s, y0), 100, 9, color=RED))
    if side == "l":
        ax.plot([s + 100, s + 100], [y0 + 9, 366], color=RED, lw=1)
        ax.text(s - 20, 358, lab, fontsize=FS, family=MONO, ha="right", va="center")
    else:
        ax.plot([s, s], [366, y0], color=RED, lw=1)
        ax.text(s + 90, 376, lab, fontsize=FS, family=MONO, ha="left", va="center")
ax.add_patch(Rectangle((1055280, 362), 40, 4, facecolor="white", edgecolor=RED, lw=1))

# ---- bundle tracks ----
A_ref = 478
for f, c in zip(A_fracs, A_colors):
    ax.plot(bins, A_ref - (np.array(A_top) - f * A_spread), color=c, lw=0.7)
ax.plot(bins, A_ref - np.array(A_top), color="black", lw=1)
for y in [478, 484, 499]:
    ax.plot([START, gap[0]], [y, y], color="black", lw=1)
    ax.plot([gap[1], END], [y, y], color="black", lw=1)

B_ref = 577
for f, c in zip(B_fracs, B_colors):
    ax.plot(bins, B_ref - (B_top - f * B_spread), color=c, lw=0.7)
ax.plot(bins, B_ref - np.array(B_red), color="#d03a20", lw=0.8)
ax.plot(bins, B_ref - np.array(B_black), color="black", lw=0.8)
for y in [556, 562, 577]:
    ax.plot([START, END], [y, y], color="black", lw=1)

# ---- paired tracks ----
REF_COL = "#a06464"
tracks = [
    (630, True, [C_black2, C_green2, C_black1, C_green1], "#008a00"),
    (708, False, [D_black2, D_green2, D_black1, D_green1], "#008a00"),
    (888, True, [E_black2, E_blue2, E_black1, E_blue1], "#1038d8"),
    (965, False, [F_black2, F_blue2, F_black1, F_blue1], "#1038d8"),
    (1145, True, [G_black2, G_red2, G_black1, G_red1], "#cc0000"),
    (1222, False, [H_black2, H_red2, H_black1, H_red1], "#cc0000"),
    (1403, True, [I_black2, I_yel2, I_black1, I_yel1], "#c8c800"),
    (1480, False, [J_black2, J_yel2, J_black1, J_yel1], "#c8c800"),
]
for ref, gapped, series, col in tracks:
    for y in [ref, ref + 7]:
        if gapped:
            ax.plot([START, gap[0]], [y, y], color=REF_COL, lw=1.2)
            ax.plot([gap[1], END], [y, y], color=REF_COL, lw=1.2)
        else:
            ax.plot([START, END], [y, y], color=REF_COL, lw=1.2)
    for i, vals in enumerate(series):
        c = "black" if i % 2 == 0 else col
        lw = 0.7 if i < 2 else 1.1
        ax.plot(bins, ref - np.array(vals), color=c, lw=lw)

# region bars
for s, e in green_bars:
    ax.add_patch(Rectangle((s, 824), min(e, END) - s, 12, color="#009000"))
ax.hlines([841] * len(green_dash), np.array(green_dash) - 20, np.array(green_dash) + 20, color="black", lw=1)
for s, e in red_bars:
    ax.add_patch(Rectangle((s, 1339), e - s, 12, color="#c00000"))
ax.hlines([1356] * len(red_dash), np.array(red_dash) - 20, np.array(red_dash) + 20, color="black", lw=1)

fig.savefig("out.png", dpi=100, facecolor="white")
